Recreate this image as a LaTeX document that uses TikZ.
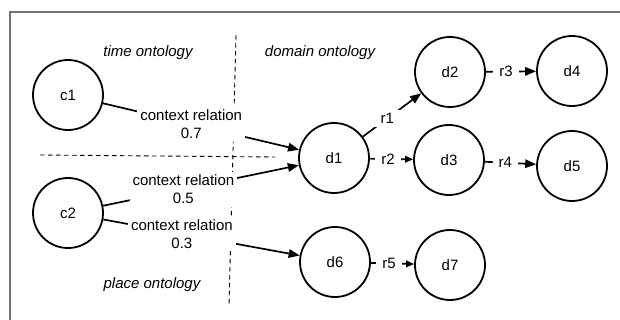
\documentclass[tikz,border=0pt]{standalone}
\usepackage{fontspec}
\setmainfont{Liberation Sans}
\usetikzlibrary{arrows.meta}

\begin{document}
\begin{tikzpicture}[x=1pt,y=-1pt,
    font=\fontsize{15}{18}\selectfont,
    concept/.style={circle,draw,line width=1.8pt,minimum size=70pt,inner sep=0pt},
    rel/.style={line width=1.7pt,-{Triangle[length=11pt,width=8.5pt]}},
    sub/.style={line width=1.7pt,-{Triangle[length=8pt,width=6.5pt]}},
    lab/.style={fill=white,align=center,inner sep=3pt},
    rlab/.style={fill=white,inner xsep=6pt,inner ysep=3pt},
    area/.style={font=\fontsize{15}{18}\selectfont\itshape},
    border/.style={draw=black!55,line width=1.3pt},
    sep/.style={line width=0.9pt,dash pattern=on 4.5pt off 3.5pt},
  ]
  \useasboundingbox (0,0) rectangle (620,320);
  \draw[border] (10,320) -- (10,12) -- (620,12);

  \draw[sep] (236,35) -- (229,305);
  \draw[sep] (40,155) -- (275,157);

  \node[area] (time) at (148,53) {time ontology};
  \node[area] (domain) at (320,53) {domain ontology};
  \node[area] (place) at (152,285) {place ontology};

  \node[concept] (c1) at (68,95) {c1};
  \node[concept] (c2) at (68,213) {c2};
  \node[concept] (d1) at (334,158) {d1};
  \node[concept] (d2) at (450,72) {d2};
  \node[concept] (d3) at (449,160) {d3};
  \node[concept] (d4) at (572,71) {d4};
  \node[concept] (d5) at (572,166) {d5};
  \node[concept] (d6) at (335,262) {d6};
  \node[concept] (d7) at (450,265) {d7};

  \draw[rel] (c1) -- node[lab,pos=0.45] (cr1) {context relation\\0.7} (d1);
  \draw[rel] (c2) -- node[lab,pos=0.41] (cr2) {context relation\\0.5} (d1);
  \draw[rel] (c2) -- node[lab,pos=0.40] (cr3) {context relation\\0.3} (d6);

  \draw[rel] (d1) -- node[rlab,pos=0.42] (r1) {r1} (d2);
  \draw[sub] (d1) -- node[rlab,pos=0.42] (r2) {r2} (d3);
  \draw[rel] (d2) -- node[rlab,pos=0.4] (r3) {r3} (d4);
  \draw[rel] (d3) -- node[rlab,pos=0.4] (r4) {r4} (d5);
  \draw[sub] (d6) -- node[rlab,pos=0.42] (r5) {r5} (d7);
\end{tikzpicture}
\end{document}
